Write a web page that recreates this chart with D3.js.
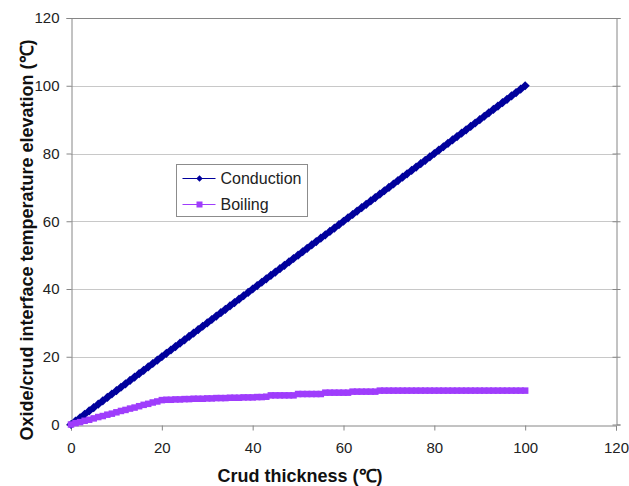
<!DOCTYPE html>
<html>
<head>
<meta charset="utf-8">
<script src="https://cdn.jsdelivr.net/npm/d3@7"></script>
<style>
  body { margin: 0; background: #fff; }
  svg { display: block; font-family: Arial, "Liberation Sans", sans-serif; }
</style>
</head>
<body>
<div id="graphicContainer"></div>
<script>
const container = d3.select('#graphicContainer');
const Width = 629, Height = 486;
const Margin = { t: 18, r: 13, b: 62, l: 71 };

// crud thickness, one reading per unit (10 per row)
const thickness = [
  0,1,2,3,4,5,6,7,8,9,
  10,11,12,13,14,15,16,17,18,19,
  20,21,22,23,24,25,26,27,28,29,
  30,31,32,33,34,35,36,37,38,39,
  40,41,42,43,44,45,46,47,48,49,
  50,51,52,53,54,55,56,57,58,59,
  60,61,62,63,64,65,66,67,68,69,
  70,71,72,73,74,75,76,77,78,79,
  80,81,82,83,84,85,86,87,88,89,
  90,91,92,93,94,95,96,97,98,99,
  100
];
const conduction = [
  0,1,2,3,4,5,6,7,8,9,
  10,11,12,13,14,15,16,17,18,19,
  20,21,22,23,24,25,26,27,28,29,
  30,31,32,33,34,35,36,37,38,39,
  40,41,42,43,44,45,46,47,48,49,
  50,51,52,53,54,55,56,57,58,59,
  60,61,62,63,64,65,66,67,68,69,
  70,71,72,73,74,75,76,77,78,79,
  80,81,82,83,84,85,86,87,88,89,
  90,91,92,93,94,95,96,97,98,99,
  100
];
const boiling = [
  0,0.4,0.7,1.1,1.4,1.8,2.2,2.5,2.9,3.2,
  3.6,4.0,4.3,4.7,5.0,5.4,5.8,6.1,6.5,6.8,
  7.2,7.3,7.3,7.4,7.4,7.5,7.5,7.6,7.6,7.6,
  7.7,7.7,7.8,7.8,7.8,7.9,7.9,7.9,8.0,8.0,
  8.0,8.1,8.1,8.2,8.6,8.6,8.6,8.6,8.6,8.6,
  9.0,9.0,9.0,9.0,9.0,9.0,9.4,9.4,9.4,9.4,
  9.4,9.4,9.7,9.7,9.7,9.7,9.7,9.7,10,10,
  10,10,10,10,10,10,10,10,10,10,
  10,10,10,10,10,10,10,10,10,10,
  10,10,10,10,10,10,10,10,10,10,
  10
];
const xTicks = [0, 20, 40, 60, 80, 100, 120];
const yTicks = [0, 20, 40, 60, 80, 100, 120];
const seriesNames = ['Conduction', 'Boiling'];

const axisColor = '#868686';
const gridColor = '#c8c8c8';
const colors = { Conduction: '#00009c', Boiling: '#9f3dfc' };

const series = [
  { name: 'Conduction', values: conduction, marker: 'diamond' },
  { name: 'Boiling', values: boiling, marker: 'square' }
];

const svg = container.append('svg')
  .attr('width', Width)
  .attr('height', Height);

const x = d3.scaleLinear().domain([0, 120]).range([Margin.l, Width - Margin.r]);
const y = d3.scaleLinear().domain([0, 120]).range([Height - Margin.b + 0.5, Margin.t]);

// gridlines
svg.append('g')
  .selectAll('line')
  .data(yTicks.filter(d => d > 0 && d < 120))
  .enter().append('line')
  .attr('x1', x(0)).attr('x2', x(120))
  .attr('y1', d => Math.round(y(d)) + 0.5).attr('y2', d => Math.round(y(d)) + 0.5)
  .attr('stroke', gridColor);

// top border
svg.append('line')
  .attr('x1', x(0)).attr('x2', x(120))
  .attr('y1', Math.round(y(120)) + 0.5).attr('y2', Math.round(y(120)) + 0.5)
  .attr('stroke', axisColor);

const styleAxis = g => {
  g.select('.domain').attr('stroke', axisColor);
  g.selectAll('.tick line').attr('stroke', axisColor);
  g.selectAll('.tick text').attr('fill', '#222').style('font-size', '15px');
};

svg.append('g')
  .attr('transform', `translate(0,${Math.round(y(0)) + 0.5})`)
  .call(d3.axisBottom(x).tickValues(xTicks).tickSizeOuter(0).tickSize(5).tickPadding(12))
  .call(styleAxis);

svg.append('g')
  .attr('transform', `translate(${Math.round(x(0)) + 0.5},0)`)
  .call(d3.axisLeft(y).tickValues(yTicks).tickSizeOuter(0).tickSize(5).tickPadding(7))
  .call(styleAxis);

// right border with crossing ticks
const right = svg.append('g')
  .attr('transform', `translate(${Math.round(x(120)) + 0.5},0)`)
  .call(d3.axisRight(y).tickValues(yTicks).tickSizeOuter(0).tickSize(4).tickFormat(''))
  .call(styleAxis);
right.selectAll('.tick line').attr('x1', -4);

// series
const line = d3.line()
  .x((d, i) => x(thickness[i]))
  .y(d => y(d));

const diamond = s => `M0,${-s}L${s},0L0,${s}L${-s},0Z`;

const seriesG = svg.append('g');
series.forEach(s => {
  const g = seriesG.append('g').attr('class', 'series');
  g.append('path')
    .datum(s.values)
    .attr('d', line)
    .attr('fill', 'none')
    .attr('stroke', colors[s.name])
    .attr('stroke-width', 1);
  if (s.marker === 'diamond') {
    g.selectAll('path.mark')
      .data(s.values)
      .enter().append('path')
      .attr('class', 'mark')
      .attr('transform', (d, i) => `translate(${x(thickness[i])},${y(d)})`)
      .attr('d', diamond(4.6))
      .attr('fill', colors[s.name]);
  } else {
    g.selectAll('rect.mark')
      .data(s.values)
      .enter().append('rect')
      .attr('class', 'mark')
      .attr('x', (d, i) => x(thickness[i]) - 3.25)
      .attr('y', d => y(d) - 3.25)
      .attr('width', 6.5).attr('height', 6.5)
      .attr('fill', colors[s.name]);
  }
});

// legend
const legend = svg.append('g').attr('transform', 'translate(176.5,164.5)');
legend.append('rect')
  .attr('width', 131).attr('height', 52)
  .attr('fill', '#fff')
  .attr('stroke', '#8c8c8c');
seriesNames.forEach((name, i) => {
  const ly = 14 + i * 26;
  const item = legend.append('g').attr('transform', `translate(0,${ly})`);
  item.append('line')
    .attr('x1', 6).attr('x2', 39)
    .attr('stroke', colors[name]).attr('stroke-width', 1);
  if (i === 0) {
    item.append('path').attr('transform', 'translate(23,0)').attr('d', diamond(3.2)).attr('fill', colors[name]);
  } else {
    item.append('rect').attr('x', 20).attr('y', -3).attr('width', 6).attr('height', 6).attr('fill', colors[name]);
  }
  item.append('text')
    .attr('x', 44).attr('y', 5.5)
    .style('font-size', '16px')
    .attr('fill', '#222')
    .text(name);
});

// axis titles
svg.append('text')
  .attr('x', 300).attr('y', 482)
  .attr('text-anchor', 'middle')
  .style('font-size', '18px').style('font-weight', 'bold')
  .attr('fill', '#111')
  .text('Crud thickness (℃)');

svg.append('text')
  .attr('transform', 'translate(33,240) rotate(-90)')
  .attr('text-anchor', 'middle')
  .style('font-size', '18px').style('font-weight', 'bold')
  .attr('fill', '#111')
  .text('Oxide/crud interface temperature elevation (℃)');
</script>
</body>
</html>
